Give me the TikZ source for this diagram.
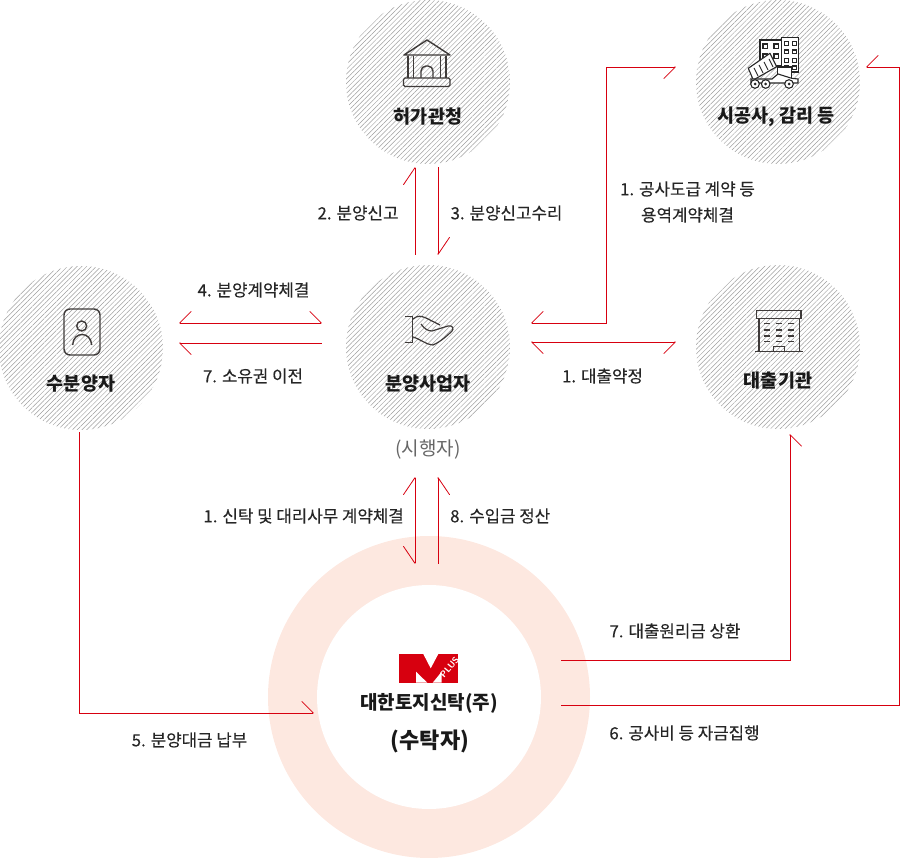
\documentclass[tikz,border=0pt]{standalone}
\usepackage{fontspec}
\setmainfont{Noto Sans CJK KR}
\newfontfamily\lblfont[FakeBold=0.25]{Noto Sans CJK KR}
\usetikzlibrary{positioning,arrows.meta,calc,patterns.meta}
\definecolor{flowred}{HTML}{D7000F}
\definecolor{ringpink}{HTML}{FDE8E0}
\definecolor{iconink}{HTML}{3E3A39}

\begin{document}
\begin{tikzpicture}[
  x=1pt, y=-1pt,
  party/.style={circle, minimum size=164pt, inner sep=0pt, pattern={Lines[angle=45, distance=3.4pt, line width=0.5pt]}, pattern color=black!38},
  title/.style={font=\fontsize{18.5}{22}\selectfont\bfseries, text=black!90, inner sep=0pt},
  lbl/.style={font=\lblfont\fontsize{16.8}{26}\selectfont, text=black!85, inner sep=0pt, align=center},
  barb/.tip={Straight Barb[harpoon, length=11.5pt, width=23pt, line width=0.8pt, round]},
  barbv/.tip={Straight Barb[harpoon, length=17pt, width=23pt, line width=0.8pt, round]},
  flow/.style={draw=flowred, line width=0.8pt},
  icon/.style={draw=iconink, line width=1.4pt},
  thinicon/.style={draw=black!85, line width=1.1pt}
]
\useasboundingbox (0,0) rectangle (900,858);

% Ring of the trustee
\node[circle, minimum size=322pt, inner sep=0pt, fill=ringpink] (ring) at (429,697) {};
\node[circle, minimum size=224pt, inner sep=0pt, fill=white] (trust) at (429,697) {};

% Parties
\node[party] (permit) at (428,82) {};
\node[party] (builder) at (778,82) {};
\node[party] (buyer) at (81,348) {};
\node[party] (dev) at (428,347) {};
\node[party] (lender) at (778,347) {};

% Titles
\node[title] (permitname) at (428,117) {허가관청};
\node[title] (buildername) at (776,117) {시공사, 감리 등};
\node[title] (buyername) at (81,384) {수분양자};
\node[title] (devname) at (428,384) {분양사업자};
\node[title] (lendername) at (778,381) {대출기관};
\node[lbl, text=black!60, font=\fontsize{19}{22}\selectfont] (devrole) at (428,450) {(시행자)};
\node[title, font=\fontsize{19}{22}\selectfont\bfseries] (trustname) at (429,703) {대한토지신탁(주)};
\node[title, font=\fontsize{22}{26}\selectfont\bfseries] (trustrole) at (430,741) {(수탁자)};

% Flows permit <-> developer
\draw[flow, -{barbv}] ($(dev.north)+(-13,-10)$) -- ($(permit.south)+(-13,3)$);
\draw[flow, -{barbv}] ($(permit.south)+(10,3)$) -- ($(dev.north)+(10,-10)$);
\node[lbl] (l2) at (358,213) {2. 분양신고};
\node[lbl] (l3) at (506.5,213) {3. 분양신고수리};

% Flows buyer <-> developer
\draw[flow, {barb[swap]}-{barb}] ($(buyer.east)+(16,-25)$) -- ($(dev.west)+(-24,-24)$);
\draw[flow, -{barb}] ($(dev.west)+(-24,-4)$) -- ($(buyer.east)+(16,-5)$);
\node[lbl] (l4) at (253.5,290) {4. 분양계약체결};
\node[lbl] (l7a) at (253,376) {7. 소유권 이전};

% Flows developer <-> builder, lender
\draw[flow, {barb[swap]}-{barb[swap]}] ($(dev.east)+(21,-24)$) -| (606,67) -- ($(builder.west)+(-20,-15)$);
\draw[flow, {barb}-{barb[swap]}] ($(dev.east)+(21,-5)$) -- ($(lender.west)+(-20,-5)$);
\node[lbl] (l1a) at (687.5,202) {1. 공사도급 계약 등\\용역계약체결};
\node[lbl] (l1b) at (602.5,376) {1. 대출약정};

% Flows developer <-> trustee
\draw[flow, {barbv}-{barbv[swap]}] ($(dev.south)+(-13,48)$) -- ($(trust.north)+(-14,-21)$);
\draw[flow, -{barbv[swap]}] ($(trust.north)+(9,-21)$) -- ($(dev.south)+(10,48)$);
\node[lbl, anchor=east] (l1c) at (404,516) {1. 신탁 및 대리사무 계약체결};
\node[lbl, anchor=west] (l8) at (450,516) {8. 수입금 정산};

% Flows from trustee
\draw[flow, -{barb}] ($(buyer.south)+(-1.5,2)$) |- ($(trust.west)+(-3,16)$);
\draw[flow, -{barb[swap]}] ($(trust.east)+(20,-37)$) -| ($(lender.south)+(12,5)$);
\draw[flow, -{barb[swap]}] ($(trust.east)+(20,8)$) -| (899,67) -- ($(builder.east)+(6,-15)$);
\node[lbl] (l5) at (189.5,740) {5. 분양대금 납부};
\node[lbl] (l7b) at (675,631) {7. 대출원리금 상환};
\node[lbl] (l6) at (684.5,733) {6. 공사비 등 자금집행};

% Icon: bank
\draw[icon, line join=round] (404,55) -- (427,40) -- (450,55) -- cycle;
\draw[icon] (408,56) -- (408,78) (413.5,56) -- (413.5,78) (440.5,56) -- (440.5,78) (446,56) -- (446,78);
\draw[icon, rounded corners=1.5pt] (403.5,78) rectangle (450,86.5);
\draw[icon, rounded corners=5pt] (421,78) -- (421,66) -- (433,66) -- (433,78);

% Icon: buildings and dump truck
\draw[thinicon, fill=white] (760,40) rectangle (781.7,66);
\draw[thinicon, fill=white] (781.7,37.7) rectangle (798.3,72);
\foreach \wx/\wy in {763/44,774/44,763/54,774/54}
  \draw[thinicon] (\wx,\wy) rectangle ++(4.2,4.2);
\foreach \wy in {41.5,50,58.5,66}
  \foreach \wx in {784.5,792.5}
    \draw[thinicon] (\wx,\wy) rectangle ++(3.6,3.6);
\draw[thinicon, fill=white, line join=round] (748.3,68.3) -- (770,53.3) -- (776.7,66.7) -- (753.3,80) -- cycle;
\foreach \sx/\sy/\ex/\ey in {754/68/758/76,759/65/763/73,764/62/768/70,769/59/773/67}
  \draw[thinicon, line width=0.9pt] (\sx,\sy) -- (\ex,\ey);
\draw[thinicon, fill=white] (777.3,67) rectangle (791.7,78.3);
\draw[thinicon, fill=white] (751,79) -- (772,79) -- (778,74) -- (791.7,78.3) -- (798,79) -- (798,83) -- (751,83) -- cycle;
\foreach \wx in {755,765.7,789}{
  \draw[thinicon, fill=white] (\wx,84) circle (4.3pt);
  \fill[black!85] (\wx,84) circle (1.5pt);
}

% Icon: person card
\draw[icon, rounded corners=6pt] (64,309) rectangle (100,355);
\draw[icon] (81.7,326) circle (5pt);
\draw[icon] (72.7,345) .. controls (73,331) and (91,331) .. (91.7,345);

% Icon: hand
\draw[icon, line width=1.2pt] (405,316.7) -- (412.7,316.7) -- (412.7,342.7) -- (405,342.7);
\draw[icon, line width=1.2pt, line join=round] (413,319) .. controls (418,315) and (421,316) .. (426,318) -- (440,325)
  (421,324) .. controls (424,328) and (427,331) .. (432,331) -- (448,326) .. controls (453,325) and (454,329) .. (452,331)
  .. controls (447,336) and (440,342) .. (433,345) .. controls (427,345) and (420,339) .. (413,337);

% Icon: office
\draw[icon] (756.7,310.7) rectangle (801,318.3);
\draw[icon] (759,318.3) -- (759,351.7) (799.3,318.3) -- (799.3,351.7) (755,351.7) -- (802.7,351.7);
\draw[icon] (773.3,351.7) -- (773.3,346.7) -- (784.3,346.7) -- (784.3,351.7);
\foreach \wy in {323.5,330,336,341.7}
  \foreach \wx in {764,776,788.3}
    \draw[iconink, line width=1.4pt] (\wx,\wy) -- ++(6,0);

% Logo
\fill[flowred] (399.3,654) rectangle (458.3,682.7);
\fill[white] (423.3,654) -- (438.3,654) -- (430.7,668.3) -- cycle;
\fill[white] (416,682.7) -- (416,671.7) -- (427.3,682.7) -- cycle;
\fill[white] (432.7,682.7) -- (441.7,671.7) -- (441.7,682.7) -- cycle;
\node[rotate=50, text=white, inner sep=0pt, font=\sffamily\bfseries\fontsize{9}{9}\selectfont] (logoplus) at (449.5,667.5) {PLUS};
\end{tikzpicture}
\end{document}
